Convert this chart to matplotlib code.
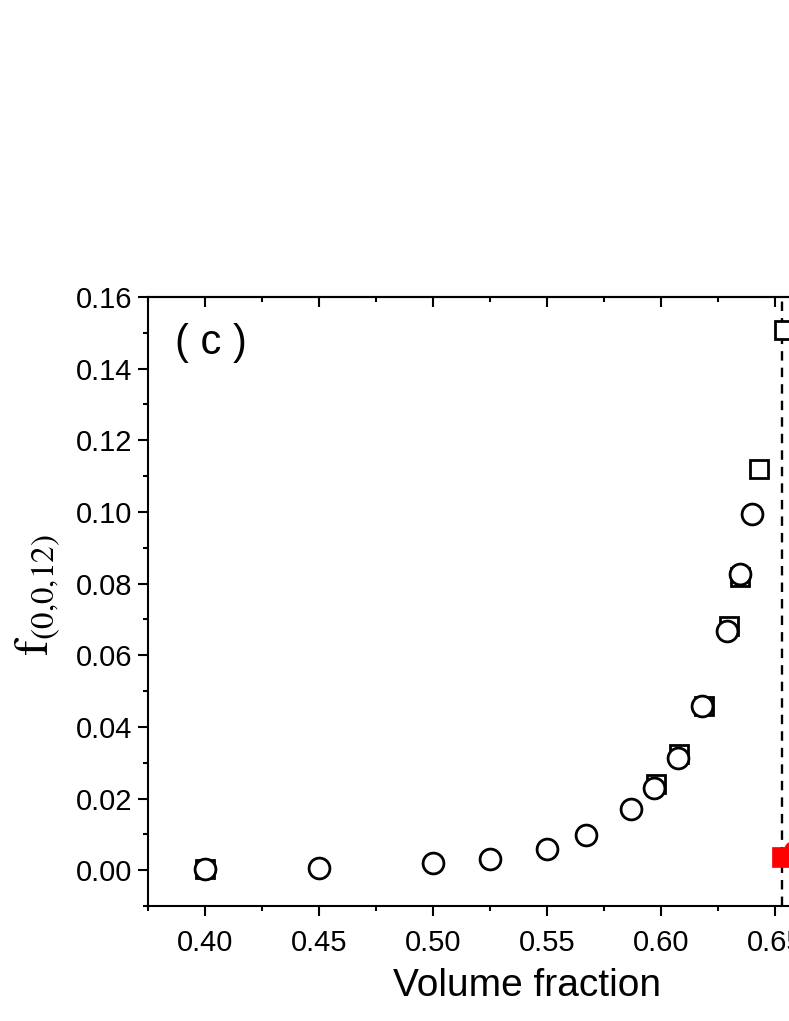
import matplotlib
matplotlib.use("Agg")
import matplotlib.pyplot as plt
from matplotlib.ticker import MultipleLocator

# open circles
circ_x = [0.400, 0.450, 0.500, 0.525, 0.550, 0.567, 0.587, 0.597, 0.6075, 0.618, 0.629, 0.6345, 0.640]
circ_y = [0.0002, 0.0006, 0.0020, 0.0032, 0.0060, 0.0097, 0.0170, 0.0230, 0.0312, 0.0459, 0.0669, 0.0827, 0.0995]

# open squares
sq_x = [0.400, 0.598, 0.608, 0.619, 0.630, 0.6347, 0.643, 0.654]
sq_y = [0.0003, 0.0240, 0.0324, 0.0459, 0.0683, 0.0817, 0.1119, 0.1508]

# red filled markers
red_sq_x = [0.6529]
red_sq_y = [0.0037]
red_circ_x = [0.6583]
red_circ_y = [0.0053]

phi_c = 0.6529

plt.rcParams["font.family"] = ["Liberation Sans", "DejaVu Sans"]
plt.rcParams["mathtext.fontset"] = "stix"

fig = plt.figure(figsize=(7.89, 10.21), dpi=100)
ax = fig.add_axes([148 / 789, 1 - 906 / 1021, 741 / 789, 609 / 1021])

ax.plot(sq_x, sq_y, "s", ms=13, mfc="white", mec="black", mew=2, zorder=3)
ax.plot(circ_x, circ_y, "o", ms=15, mfc="white", mec="black", mew=2, zorder=4)
ax.plot(red_sq_x, red_sq_y, "s", ms=14, mfc="red", mec="red", mew=0.5, zorder=5)
ax.plot(red_circ_x, red_circ_y, "o", ms=15, mfc="red", mec="red", mew=0.5, zorder=5)
ax.axvline(phi_c, color="black", ls=(0, (4, 3)), lw=1.7, zorder=2)

ax.set_xlim(0.375, 0.700)
ax.set_ylim(-0.01, 0.16)
ax.xaxis.set_major_locator(MultipleLocator(0.05))
ax.xaxis.set_minor_locator(MultipleLocator(0.025))
ax.yaxis.set_major_locator(MultipleLocator(0.02))
ax.yaxis.set_minor_locator(MultipleLocator(0.01))
ax.xaxis.set_major_formatter(plt.FormatStrFormatter("%.2f"))
ax.yaxis.set_major_formatter(plt.FormatStrFormatter("%.2f"))

for s in ax.spines.values():
    s.set_linewidth(1.5)
ax.tick_params(which="both", direction="out", width=1.5, labelsize=21,
               top=False, right=False)
ax.tick_params(which="major", length=7.2)
ax.tick_params(which="minor", length=3.6)
ax.tick_params(axis="x", which="major", pad=9)
ax.tick_params(axis="y", which="major", pad=4)

# inward ticks on the top spine, no labels
top = ax.secondary_xaxis("top")
top.xaxis.set_major_locator(MultipleLocator(0.05))
top.xaxis.set_minor_locator(MultipleLocator(0.025))
top.tick_params(which="both", direction="in", width=1.5, labeltop=False)
top.tick_params(which="major", length=7.2)
top.tick_params(which="minor", length=3.6)
top.spines["top"].set_linewidth(1.5)

ax.set_xlabel("Volume fraction", fontsize=28)
ax.xaxis.set_label_coords((527 - 148) / 741, (906 - 968) / 609)
ax.set_ylabel(r"$\mathrm{f}_{\mathrm{(0{,}0{,}12)}}$", fontsize=34)
ax.yaxis.set_label_coords((62 - 148) / 741, (906 - 595) / 609)

ax.text(175 / 789, 1 - 343 / 1021, "( c )", fontsize=30, transform=fig.transFigure,
        ha="left", va="center")

fig.savefig("out.png", dpi=100)
